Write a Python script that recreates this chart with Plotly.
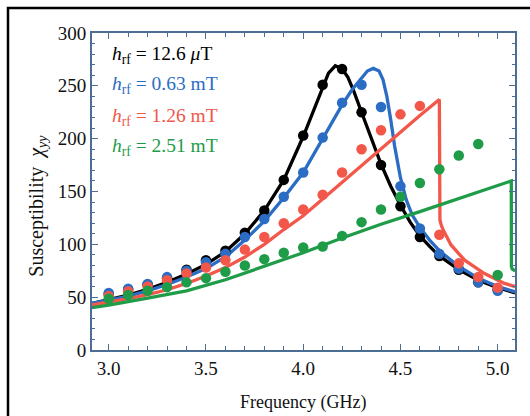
import plotly.graph_objects as go

# ---- data ----
freq_pts = [3.0, 3.1, 3.2, 3.3, 3.4, 3.5, 3.6, 3.7, 3.8, 3.9, 4.0,
            4.1, 4.2, 4.3, 4.4, 4.5, 4.6, 4.7, 4.8, 4.9, 5.0]
black_pts = [53, 57, 62, 68, 76, 85, 94, 111, 132, 161, 203,
             251, 266, 225, 175, 136, 107, 89, 76, 64, 57]
blue_pts = [54, 58, 62.5, 69, 75, 83, 91, 107, 124, 145, 168,
            201, 234, 251, 230, 155, 115, 91, 77, 64, 56]
red_pts = [51, 55.5, 60, 66, 72.5, 78, 85, 95, 107, 120, 133,
           147, 168, 190, 208, 223, 231, 109, 82, 69, 59]
green_pts = [48.5, 52, 56, 59.5, 64, 68, 74, 80, 86, 92, 97,
             98, 108, 121, 133, 145, 158, 171, 184, 195, 71]

black_fx = [2.91, 3.0, 3.1, 3.2, 3.3, 3.4, 3.5, 3.6, 3.7, 3.8, 3.9, 4.0, 4.05, 4.1, 4.13,
            4.165, 4.2, 4.23, 4.26, 4.3, 4.35, 4.4, 4.45, 4.5, 4.55, 4.6, 4.65, 4.7,
            4.8, 4.9, 5.0, 5.09]
black_fy = [44, 47.5, 52, 57.5, 64, 72, 81, 93, 110, 132, 161, 202, 225, 250, 262,
            269, 266, 258, 245, 225, 200, 176, 155, 137, 121, 108, 98, 89,
            76, 66, 59, 54]

blue_fx = [2.91, 3.0, 3.1, 3.2, 3.3, 3.4, 3.5, 3.6, 3.7, 3.8, 3.9, 4.0, 4.1, 4.2, 4.25,
           4.3, 4.33, 4.36, 4.39, 4.41, 4.43, 4.45, 4.47, 4.5, 4.53, 4.56, 4.6, 4.65,
           4.7, 4.8, 4.9, 5.0, 5.09]
blue_fy = [44, 47, 51, 56, 62, 69, 77, 88, 104, 122, 144, 168, 200, 232, 246,
           258, 264, 266.5, 264, 256, 240, 218, 193, 163, 142, 128, 116, 104,
           94, 79, 68, 60, 55]

red_fx = [2.91, 3.0, 3.1, 3.2, 3.3, 3.4, 3.5, 3.6, 3.7, 3.8, 3.9, 4.0, 4.1, 4.2, 4.3,
          4.4, 4.5, 4.6, 4.7, 4.7005, 4.703, 4.71, 4.72, 4.76, 4.83, 4.93, 5.035, 5.09]
red_fy = [42.5, 45, 48.5, 52.5, 57, 63, 70, 78, 88, 100, 114, 127, 143, 159, 175,
          191, 207, 222, 237, 129, 123, 118, 113.6, 99.4, 85, 72.6, 63, 60]

green_fx = [2.91, 3.0, 3.2, 3.4, 3.6, 3.8, 4.0, 4.2, 4.4, 4.6, 4.8, 5.0, 5.07,
            5.0705, 5.075, 5.09]
green_fy = [40, 42.5, 49, 56, 66.5, 79, 92, 106, 119, 131, 143, 155.5, 160,
            79, 76.5, 75]

colors = {"black": "#000000", "blue": "#2b6cc4", "red": "#f2574a", "green": "#1e9c48"}
legend_labels = [("black", "12.6 <i>μ</i>T"), ("blue", "0.63 mT"),
                 ("red", "1.26 mT"), ("green", "2.51 mT")]

fig = go.Figure()
for key, fx, fy in [("black", black_fx, black_fy), ("blue", blue_fx, blue_fy),
                    ("red", red_fx, red_fy), ("green", green_fx, green_fy)]:
    fig.add_trace(go.Scatter(x=fx, y=fy, mode="lines",
                             line=dict(color=colors[key], width=3.3), showlegend=False,
                             cliponaxis=True))
for key, py in [("black", black_pts), ("blue", blue_pts), ("red", red_pts), ("green", green_pts)]:
    fig.add_trace(go.Scatter(x=freq_pts, y=py, mode="markers",
                             marker=dict(color=colors[key], size=10.5), showlegend=False))

font_family = "Liberation Serif"
axis_col = "#4d6e94"
fig.update_xaxes(range=[2.914, 5.089], tickvals=[3.0, 3.5, 4.0, 4.5, 5.0],
                 ticktext=["3.0", "3.5", "4.0", "4.5", "5.0"],
                 ticks="inside", ticklen=6, tickwidth=1.2, tickcolor=axis_col,
                 minor=dict(dtick=0.1, tick0=3.0, ticks="inside", ticklen=4, tickcolor=axis_col),
                 showline=True, linecolor=axis_col, linewidth=2, mirror="ticks",
                 showgrid=False, zeroline=False,
                 tickfont=dict(family=font_family, size=19, color="#111"))
fig.update_yaxes(range=[0, 300], tickvals=[0, 50, 100, 150, 200, 250, 300],
                 ticks="inside", ticklen=6, tickwidth=1.2, tickcolor=axis_col,
                 minor=dict(dtick=10, ticks="inside", ticklen=3, tickcolor=axis_col),
                 showline=True, linecolor=axis_col, linewidth=2, mirror="ticks",
                 showgrid=False, zeroline=False,
                 tickfont=dict(family=font_family, size=19, color="#111"))

annotations = []
ys = [0.9306, 0.836, 0.735, 0.640]
for (key, val), yy in zip(legend_labels, ys):
    annotations.append(dict(xref="paper", yref="paper", x=0.0426, y=yy,
                            xanchor="left", yanchor="middle", showarrow=False,
                            text="<i>h</i><sub>rf</sub> = " + val,
                            font=dict(family=font_family, size=19.5, color=colors[key])))
annotations.append(dict(xref="paper", yref="paper", x=0.4988, y=-0.167,
                        xanchor="center", yanchor="middle", showarrow=False,
                        text="Frequency (GHz)",
                        font=dict(family=font_family, size=18, color="#111")))
annotations.append(dict(xref="paper", yref="paper", x=-0.1277, y=0.455,
                        xanchor="center", yanchor="middle", showarrow=False, textangle=-90,
                        text="Susceptibility  <i>χ</i><sub><i>yy</i></sub>",
                        font=dict(family=font_family, size=20, color="#111")))

fig.update_layout(width=530, height=416, margin=dict(l=92, r=15, t=33, b=66),
                  paper_bgcolor="white", plot_bgcolor="white",
                  annotations=annotations,
                  shapes=[dict(type="rect", xref="paper", yref="paper",
                               x0=(8 - 92) / 423, x1=(560 - 92) / 423,
                               y0=(350 - 440) / 317, y1=(350 - 8) / 317,
                               line=dict(color="black", width=2.5), layer="above")])

fig.write_html("out.html")
